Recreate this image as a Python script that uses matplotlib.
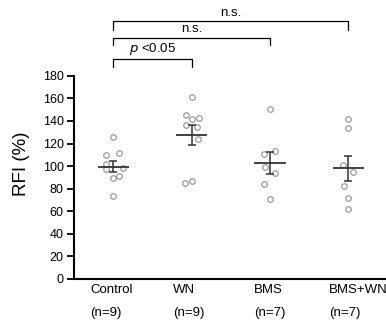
import matplotlib.pyplot as plt
import numpy as np

plt.rcParams['font.family'] = ['Liberation Sans', 'DejaVu Sans']

# ----------------------------
# Data
# ----------------------------
groups = ['Control', 'WN', 'BMS', 'BMS+WN']
n_labels = ['(n=9)', '(n=9)', '(n=7)', '(n=7)']

control = [125.4, 110.0, 111.2, 101.8, 97.3, 98.5, 89.7, 91.4, 73.7]
control_dx = [0.0, -0.09, 0.08, -0.09, -0.09, 0.12, 0.0, 0.08, 0.0]
wn = [161.0, 145.7, 141.9, 142.5, 136.0, 134.5, 124.2, 84.7, 86.5]
wn_dx = [0.0, -0.07, 0.01, 0.10, -0.07, 0.07, 0.08, -0.09, 0.0]
bms = [151.0, 110.6, 113.5, 99.4, 93.5, 83.8, 70.5]
bms_dx = [0.0, -0.07, 0.07, -0.06, 0.07, -0.07, 0.0]
bmswn = [141.3, 134.2, 101.2, 94.7, 82.6, 72.0, 62.0]
bmswn_dx = [0.0, 0.0, -0.07, 0.06, -0.05, 0.0, 0.0]

means = [99.4, 127.7, 102.9, 98.0]
sems = [5.0, 8.9, 9.6, 11.1]

# brackets: (group a, group b, label, bar height, leg bottom)
brackets = [
    (0, 1, r'$p$ <0.05', 194.7, 188.0),
    (0, 2, 'n.s.', 213.9, 207.0),
    (0, 3, 'n.s.', 228.6, 221.0),
]

# left edge of the category labels, relative to each group
label_shift = [-0.29, -0.24, -0.2, -0.25]

# ----------------------------
# Plot
# ----------------------------
fig = plt.figure(figsize=(3.86, 3.24), dpi=100)
ax = fig.add_axes([0.1917, 0.139, 0.8123, 0.627])

all_vals = [control, wn, bms, bmswn]
all_dx = [control_dx, wn_dx, bms_dx, bmswn_dx]
for i, (vals, dx) in enumerate(zip(all_vals, all_dx)):
    ax.scatter(i + np.array(dx), vals, s=16, facecolors='white',
               edgecolors='#9a9a9a', linewidths=0.9, zorder=2)

x = np.arange(len(groups))
ax.hlines(means, x - 0.2, x + 0.2, color='#333333', linewidth=1.3, zorder=3)
ax.errorbar(x, means, yerr=sems, fmt='none', ecolor='#333333',
            elinewidth=1.1, capsize=3, capthick=1.1, zorder=3)

for a, b, label, top, leg in brackets:
    ax.plot([a, a, b, b], [leg, top, top, leg], color='black',
            linewidth=0.9, clip_on=False)
    ax.text((a + b) / 2, top + 2.0, label, ha='center', va='bottom',
            fontsize=9.5, clip_on=False)

ax.set_xlim(-0.5, 3.5)
ax.set_ylim(0, 180)
ax.set_yticks(np.arange(0, 181, 20))
ax.set_xticks([])
ax.tick_params(axis='y', direction='out', length=5, width=1.3,
               labelsize=9, pad=2.5)
ax.spines['top'].set_visible(False)
ax.spines['right'].set_visible(False)
ax.spines['left'].set_linewidth(1.5)
ax.spines['bottom'].set_linewidth(1.5)
fig.text(21 / 386, 1 - 164 / 324, 'RFI (%)', rotation=90, ha='center',
         va='center', fontsize=13.5)

for i in range(len(groups)):
    ax.text(i + label_shift[i], -10, groups[i], ha='left', va='center',
            fontsize=9.5, clip_on=False)
    ax.text(i + label_shift[i], -30, n_labels[i], ha='left', va='center',
            fontsize=9.5, clip_on=False)

fig.savefig('out.png', dpi=100)
